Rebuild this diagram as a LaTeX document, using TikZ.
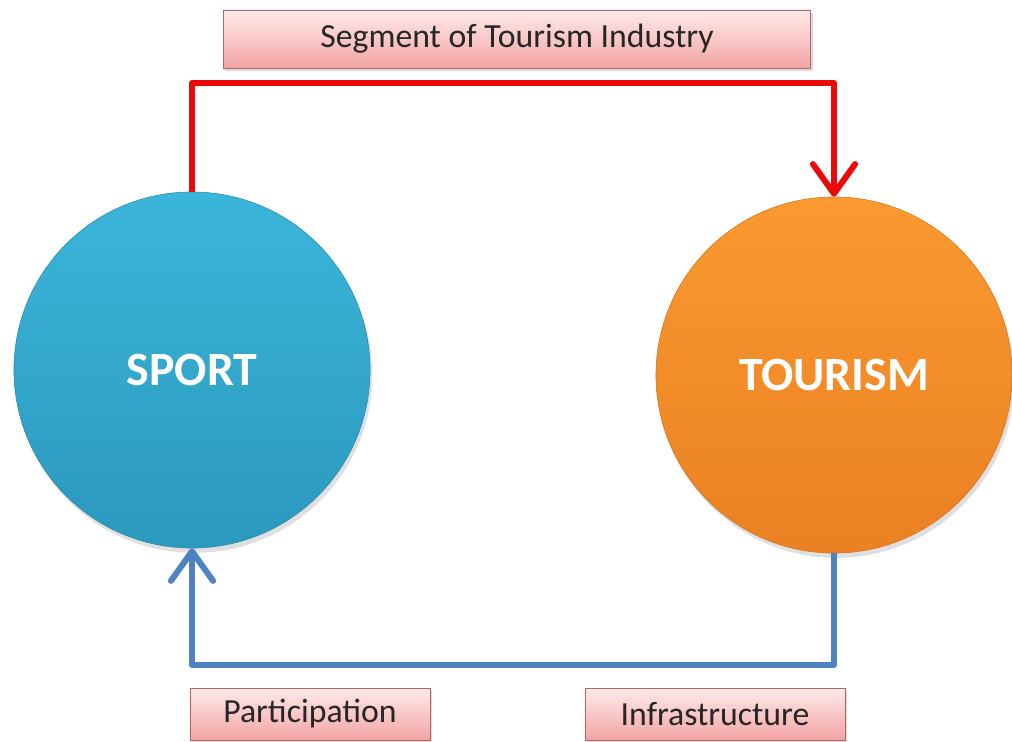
\documentclass[tikz,border=0pt]{standalone}
\usepackage{fontspec}
\setmainfont{Carlito}
\usepackage{tikz}
\usetikzlibrary{positioning,arrows.meta,shadows}
\definecolor{sportblue}{RGB}{58,182,218}
\definecolor{sportdeep}{RGB}{44,152,190}
\definecolor{tourorange}{RGB}{250,154,48}
\definecolor{tourdeep}{RGB}{234,128,34}
\definecolor{linkred}{RGB}{235,10,10}
\definecolor{linkblue}{RGB}{80,130,192}
\definecolor{tagtop}{RGB}{255,234,234}
\definecolor{tagbot}{RGB}{242,164,164}
\definecolor{tagline}{RGB}{185,100,100}
\tikzset{
  bubble/.style ={circle, minimum size=8.9cm, inner sep=0pt, text=white,
                  font=\fontsize{34}{40}\selectfont\bfseries,
                  drop shadow={opacity=0.25, shadow xshift=0.6mm, shadow yshift=-1.2mm}},
  tag/.style    ={rectangle, draw=tagline, top color=tagtop, bottom color=tagbot,
                  text=black!85, font=\fontsize{24}{28}\selectfont, inner sep=0pt,
                  drop shadow={opacity=0.3, shadow xshift=0.5mm, shadow yshift=-0.8mm}},
  redlink/.style ={linkred, line width=4.3pt, line join=round,
                  -{Straight Barb[length=21pt, width=30pt, round]}},
  bluelink/.style={linkblue, line width=4.3pt, line join=round,
                  -{Straight Barb[length=21pt, width=30pt, round]}},
}

\begin{document}
\begin{tikzpicture}[x=0.025cm, y=-0.025cm]
  \useasboundingbox (0,0) rectangle (1012,742);

  % circles
  \node[bubble, draw=sportdeep!90!black, top color=sportblue, bottom color=sportdeep] (sport) at (192,370) {SPORT};
  \node[bubble, draw=tourdeep!90!black, top color=tourorange, bottom color=tourdeep] (tourism) at (834,375) {TOURISM};

  % labels
  \node[tag, minimum width=14.68cm, minimum height=1.45cm] (seg) at (517,39) {Segment of Tourism Industry};
  \node[tag, minimum width=6cm, minimum height=1.3cm] (part) at (310,714) {Participation};
  \node[tag, minimum width=6.5cm, minimum height=1.3cm] (infra) at (715,714) {Infrastructure};

  % links
  \draw[redlink] (sport.north) -- (sport.north |- 0,83) -| (tourism.north);
  \draw[bluelink] (tourism.south) -- (tourism.south |- 0,665) -| (sport.south);
\end{tikzpicture}
\end{document}
